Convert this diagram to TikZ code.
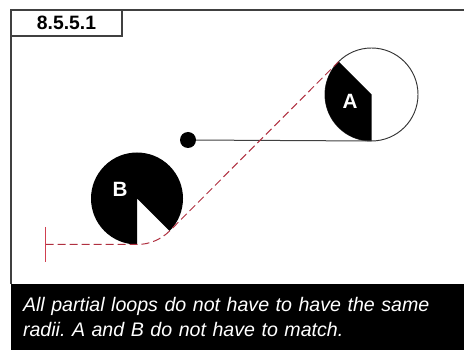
\documentclass[tikz,border=0pt]{standalone}
\usepackage{fontspec}
\setmainfont{Liberation Sans}
\definecolor{routered}{HTML}{B03040}
\definecolor{stopred}{HTML}{D04050}

\begin{document}
\frenchspacing
\begin{tikzpicture}[
    x=0.75pt, y=0.75pt,
    loopa/.style={circle, draw=black!80, line width=0.7pt, minimum size=69.75pt, inner sep=0pt, outer sep=0pt},
    loopb/.style={circle, minimum size=69pt, inner sep=0pt, outer sep=0pt},
    letter/.style={text=white, font=\bfseries\fontsize{15.5}{17}\selectfont, inner sep=0pt},
    tag/.style={rectangle, draw=black!75, line width=1.1pt, fill=white, minimum width=83.25pt,
                minimum height=19.5pt, inner sep=0pt, font=\bfseries\fontsize{14.5}{16}\selectfont},
    captionbar/.style={rectangle, fill=black, text=white, minimum width=339.75pt, minimum height=49.5pt,
                inner sep=0pt, outer sep=0pt, align=left, text width=321.75pt,
                font=\itshape\fontsize{14.7}{18.75}\selectfont},
    dot/.style={circle, fill=black, minimum size=12pt, inner sep=0pt, outer sep=0pt},
    rope/.style={draw=black!75, line width=0.75pt},
    route/.style={draw=routered, line width=0.75pt, dash pattern=on 6pt off 3pt},
    stopmark/.style={color=stopred, line width=0.9pt}
]
    \useasboundingbox (0,0) rectangle (464,350);

    \node[loopa] (loopA) at (371.5,255.5) {};
    \node[loopb] (loopB) at (137,151.5) {};
    \node[dot] (knob) at (188,210) {};
    \node[captionbar] (caption) at (237.5,33) {All partial loops do not have to have the same\\radii. A and B do not have to match.};
    \coordinate (frameL) at (11,66);
    \coordinate (frameC) at (11,340);
    \coordinate (frameR) at (464,340);
    \coordinate (routeend) at (45.5,105.5);
    \coordinate (stopup) at (45.5,123);
    \coordinate (stopdown) at (45.5,88);

    % filled parts of the two loops
    \fill (loopA.center) -- (loopA.135) arc[start angle=135, end angle=270, radius=46.5] -- cycle;
    \fill (loopB.center) -- (loopB.315) arc[start angle=-45, end angle=270, radius=46] -- cycle;

    \draw[draw=black!75, line width=1.1pt] (frameL) -- (frameC) -- (frameR);
    \node[tag] (title) at (66.5,327) {8.5.5.1};
    \node[letter] (labelA) at (350,249) {A};
    \node[letter] (labelB) at (120,161) {B};

    \draw[rope] (knob) -- (loopA.south);
    \draw[route] (routeend) -- (loopB.south) arc[start angle=270, end angle=315, radius=46] -- (loopA.135);
    \draw[stopmark] (stopup) -- (stopdown);
\end{tikzpicture}
\end{document}
